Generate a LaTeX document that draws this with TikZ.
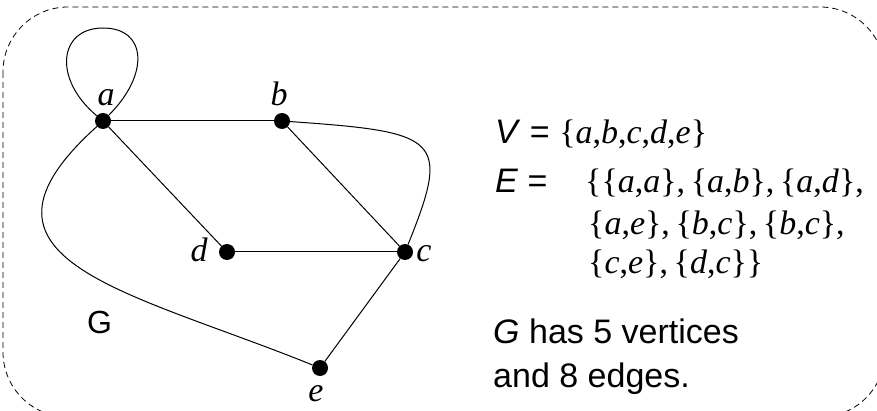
\documentclass[tikz,border=0pt]{standalone}
\usepackage{fontspec}
\setmainfont{Liberation Sans}
\newfontfamily\tms{Liberation Serif}
\usetikzlibrary{positioning}
\newcommand{\vx}[1]{\textit{#1}}
\newcommand{\eset}[2]{\{\vx{#1},\vx{#2}\}}
\tikzset{
  vertex/.style={
    circle,
    fill=black,
    inner sep=0pt,
    minimum size=16pt
  },
  vlabel/.style={
    anchor=base,
    inner sep=0pt,
    font=\fontsize{34}{40}\selectfont\tms\itshape
  },
  edge/.style={line width=1pt},
  frame/.style={
    dash pattern=on 6pt off 4pt,
    line width=0.8pt,
    rounded corners=65pt
  },
  textline/.style={
    anchor=base west,
    inner sep=0pt,
    font=\fontsize{34}{40}\selectfont
  },
  setline/.style={
    anchor=base west,
    inner sep=0pt,
    font=\fontsize{34}{40}\selectfont\tms
  }
}

\begin{document}
\begin{tikzpicture}[x=1pt,y=1pt]
\clip (0,0) rectangle (877,-411);
\draw[frame] (3,-7) rectangle (885,-417);
% vertices
\node[vertex] (a) at (103,-121) {};
\node[vertex] (b) at (282,-121) {};
\node[vertex] (d) at (227,-252) {};
\node[vertex] (c) at (405,-252) {};
\node[vertex] (e) at (320,-368) {};
\coordinate (looptop) at (103,-28);
\node[vlabel] (la) at (106,-106) {a};
\node[vlabel] (lb) at (279,-106) {b};
\node[vlabel] (ld) at (199,-262) {d};
\node[vlabel] (lc) at (424,-262) {c};
\node[vlabel] (le) at (316,-401) {e};
% edges
\draw[edge] (a) to[out=140,in=180,out distance=58pt,in distance=44pt] (looptop)
  to[out=0,in=45,out distance=44pt,in distance=58pt] (a);
\draw[edge] (a) -- (b);
\draw[edge] (a) -- (d);
\draw[edge] (b) -- (c);
\draw[edge] (d) -- (c);
\draw[edge] (c) -- (e);
\draw[edge] (a) to[out=222,in=158,out distance=200pt,in distance=200pt] (e);
\draw[edge] (b) to[out=-4,in=68,out distance=150pt,in distance=115pt] (c);
\node[textline,font=\fontsize{32}{38}\selectfont] (gname) at (87,-333) {G};
% sets
\node[textline] (vline) at (495,-144) {\textit{V} = {\tms\{\vx{a},\vx{b},\vx{c},\vx{d},\vx{e}\}}};
\node[textline] (eline) at (495,-193) {\textit{E} =};
\node[setline] (row1) at (585,-193) {\{\eset{a}{a},\,\eset{a}{b},\,\eset{a}{d},};
\node[setline] (row2) at (588,-235) {\eset{a}{e},\,\eset{b}{c},\,\eset{b}{c},};
\node[setline] (row3) at (588,-274) {\eset{c}{e},\,\eset{d}{c}\}};
% counts
\node[textline] (info1) at (493,-343) {\textit{G} has 5 vertices};
\node[textline] (info2) at (493,-387) {and 8 edges.};
\end{tikzpicture}
\end{document}
